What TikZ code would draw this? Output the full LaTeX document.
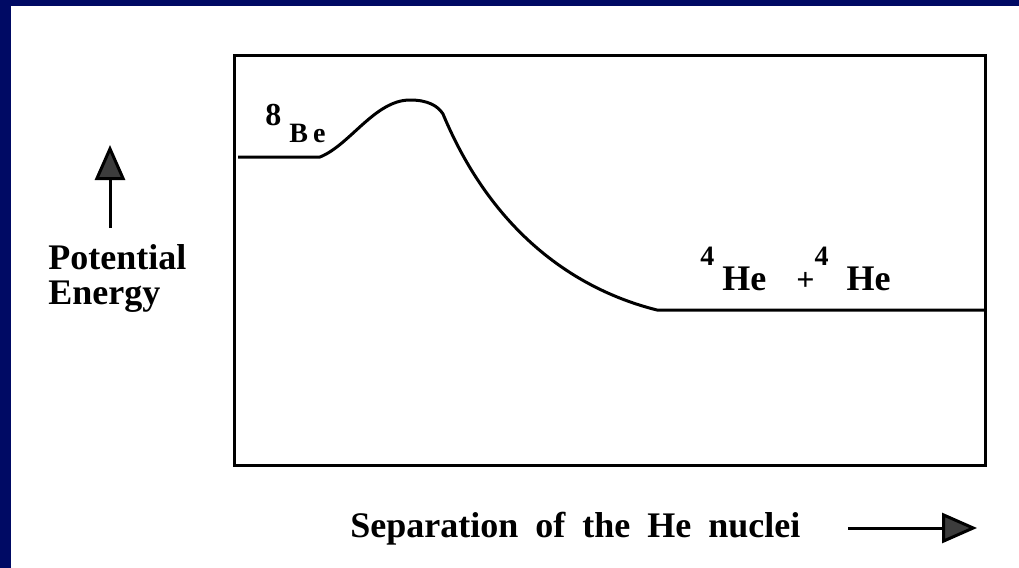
\documentclass[tikz,border=0pt]{standalone}
\usepackage{fontspec}
\setmainfont{Liberation Serif}
\usetikzlibrary{arrows.meta}
\definecolor{SlideNavy}{RGB}{0,10,100}
\definecolor{InkGray}{RGB}{60,60,60}
\newcommand{\axisfont}{\fontsize{18}{15.5}\selectfont\bfseries}
\newcommand{\massfont}{\fontsize{14}{14}\selectfont\bfseries}
\tikzset{
  frame/.style={draw=black,line width=1.5pt},
  curve/.style={draw=black,line width=1.5pt,line join=round},
  axislabel/.style={font=\axisfont,inner sep=0pt,anchor=base west,align=left},
  species/.style={font=\axisfont,inner sep=0pt,anchor=base west},
  axisarrow/.style={line width=1.5pt,-{Triangle[length=17.5pt,width=15pt,fill=InkGray]}}
}

\begin{document}
\begin{tikzpicture}[x=0.5pt,y=-0.5pt]
  \fill[SlideNavy] (0,0) rectangle (1019,568);
  \fill[white] (11,6) rectangle (1019,568);
  \useasboundingbox (0,0) rectangle (1019,568);
  % plot frame
  \draw[frame] (234,55) rectangle (985,465);
  % energy curve
  \draw[curve] (238,157) -- (320,157)
    .. controls (350,145) and (375,100) .. (410,100)
    .. controls (428,100) and (438,106) .. (443,114)
    .. controls (493,234) and (577,290) .. (657,310)
    -- (985,310);
  % species
  \node[species] (beryllium) at (265,142)
    {\raisebox{8.5pt}{\fontsize{16}{16}\selectfont\bfseries 8}\hspace{4pt}{\fontsize{14}{14}\selectfont\bfseries B\hspace{2.5pt}e}};
  \node[species] (helium) at (700,290)
    {\raisebox{12.5pt}{\massfont 4}\hspace{4pt}He\hspace{15pt}{\fontsize{16}{16}\selectfont\bfseries +}\hspace{0pt}\raisebox{12.5pt}{\massfont 4}\hspace{9pt}He};
  % axes
  \node[axislabel] (energy) at (48,304) {Potential\\[2pt]Energy};
  \node[axislabel,font={\axisfont\spaceskip=8.5pt}] (separation) at (350,537) {Separation of the He nuclei};
  \coordinate (upfoot) at (110,228);
  \coordinate (uptip) at (110,145);
  \coordinate (rightfoot) at (848,528);
  \coordinate (righttip) at (977,528);
  \draw[axisarrow] (upfoot) -- (uptip);
  \draw[axisarrow] (rightfoot) -- (righttip);
\end{tikzpicture}
\end{document}
